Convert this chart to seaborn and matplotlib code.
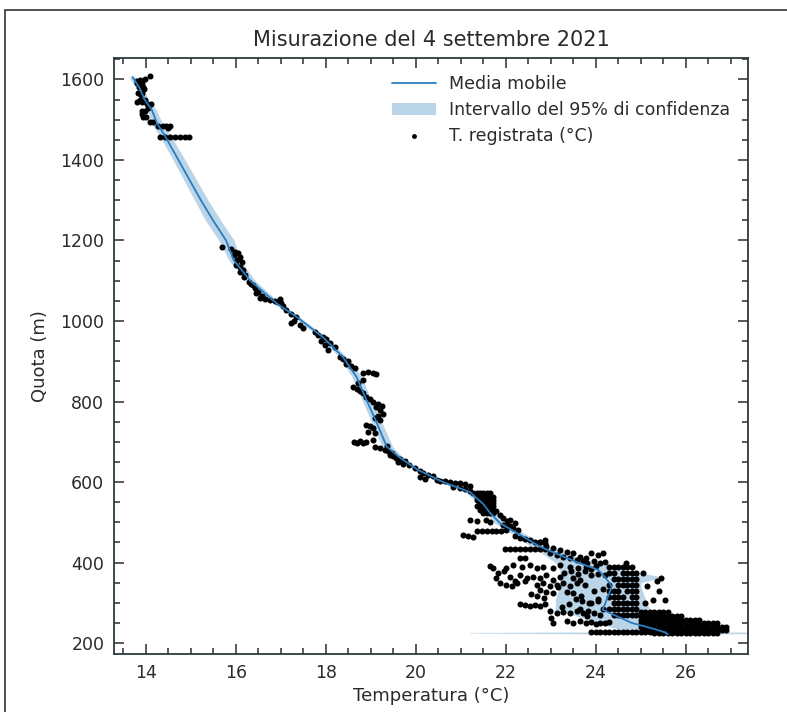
import matplotlib
matplotlib.use("Agg")
import matplotlib.pyplot as plt
import matplotlib.patches as patches
from matplotlib.ticker import MultipleLocator
import seaborn as sns

# --- recorded temperatures (°C) and altitudes (m), read region by region ---
# top of the climb, 1450-1610 m
top_temp = [14.09, 13.98, 13.87, 13.81, 13.91, 13.80, 13.93, 13.84, 13.91, 13.82,
            13.87, 13.98, 13.80, 13.91, 14.02, 14.11, 13.91, 13.98, 13.91, 13.93,
            14.00, 14.09, 14.16, 14.27, 14.38, 14.45, 14.53, 14.49, 14.31, 14.42,
            14.53, 14.64, 14.76, 14.87, 14.95, 13.95, 13.88, 14.05]
top_quota = [1608, 1602, 1598, 1596, 1590, 1590, 1581, 1581, 1567, 1567,
             1550, 1550, 1545, 1545, 1538, 1538, 1521, 1521, 1514, 1506,
             1506, 1494, 1494, 1484, 1484, 1484, 1484, 1478, 1457, 1457,
             1457, 1457, 1457, 1457, 1457, 1575, 1560, 1530]

# 1020-1190 m
upper_temp = [15.68, 15.90, 15.98, 16.05, 16.09, 16.02, 16.13, 16.09, 16.16, 16.09,
              16.20, 16.17, 16.30, 16.38, 16.34, 16.42, 16.49, 16.45, 16.53, 16.64,
              16.75, 16.86, 16.93, 17.00, 16.97, 17.04, 17.11, 15.95, 16.00, 16.58]
upper_quota = [1183, 1178, 1172, 1168, 1159, 1152, 1147, 1134, 1126, 1122,
               1114, 1110, 1097, 1089, 1093, 1081, 1072, 1069, 1057, 1054,
               1052, 1050, 1047, 1044, 1055, 1036, 1027, 1165, 1140, 1062]

# 690-1020 m
mid_temp = [17.22, 17.33, 17.29, 17.22, 17.42, 17.50, 17.76, 17.83, 17.94, 18.01,
            17.90, 17.98, 18.09, 18.20, 18.05, 18.31, 18.38, 18.49, 18.45, 18.56,
            18.64, 18.83, 18.94, 19.05, 19.12, 18.82, 18.71, 18.61, 18.68, 18.75,
            18.83, 18.90, 18.98, 19.05, 19.16, 19.24, 19.12, 19.20, 19.27, 19.16,
            19.09, 19.20, 18.90, 18.98, 19.05, 18.94, 19.09, 18.62, 18.68, 18.75,
            18.83, 18.90, 19.05]
mid_quota = [1018, 1010, 1000, 995, 990, 983, 973, 965, 960, 955,
             950, 940, 945, 935, 928, 911, 905, 900, 893, 888,
             882, 870, 873, 870, 868, 853, 845, 837, 830, 825,
             820, 812, 805, 800, 795, 790, 787, 779, 770, 765,
             758, 754, 742, 738, 733, 725, 722, 700, 698, 703,
             697, 700, 705]

# 570-690 m
chain_temp = [19.09, 19.20, 19.31, 19.38, 19.46, 19.42, 19.55, 19.65, 19.75, 19.60,
              19.72, 19.84, 19.98, 20.09, 20.16, 20.27, 20.38, 20.10, 20.20, 20.46,
              20.53, 20.64, 20.75, 20.86, 20.97, 21.08, 21.20, 20.82, 20.97, 21.08,
              21.20, 21.27, 19.35, 19.50]
chain_quota = [688, 684, 680, 676, 672, 667, 660, 656, 652, 650,
               645, 642, 635, 628, 622, 618, 614, 612, 608, 605,
               603, 602, 600, 598, 597, 595, 590, 588, 585, 582,
               578, 573, 690, 665]

# hovering around 520-575 m: rows of readings
stack_quota = [572, 564, 556, 548, 540, 531, 523]
stack_temp = [[21.35, 21.43, 21.50, 21.57, 21.65],
              [21.35, 21.43, 21.50, 21.57, 21.65, 21.72],
              [21.35, 21.43, 21.50, 21.57, 21.65, 21.72],
              [21.43, 21.50, 21.57, 21.65, 21.72],
              [21.35, 21.43, 21.50, 21.57, 21.65, 21.72],
              [21.43, 21.50, 21.57, 21.65, 21.72],
              [21.50, 21.57, 21.65, 21.72]]

# 430-530 m
low_temp = [21.79, 21.87, 21.94, 22.02, 21.20, 21.35, 21.55, 21.65, 21.05, 21.16,
            21.27, 21.35, 21.46, 21.57, 21.68, 21.79, 21.90, 22.00, 22.09, 21.94,
            22.05, 22.16, 22.27, 22.10, 22.20, 22.20, 22.31, 22.42, 22.53, 22.64,
            22.75, 22.86, 21.98, 22.09, 22.20, 22.31, 22.42, 22.53, 22.64, 22.75,
            22.86]
low_quota = [527, 519, 511, 503, 506, 503, 506, 501, 469, 466,
             464, 479, 479, 478, 478, 478, 479, 480, 490, 494,
             490, 486, 481, 505, 498, 465, 462, 458, 455, 452,
             450, 455, 433, 433, 433, 433, 433, 433, 433, 433,
             433]

# scattered readings near the ground, 240-445 m
scatter_temp = [22.90, 23.05, 23.20, 23.35, 23.50, 23.64, 23.79, 22.98, 23.13, 23.27,
                23.42, 23.57, 23.72, 22.31, 22.42, 21.72, 21.83, 21.79, 21.87, 22.01,
                22.13, 22.20, 22.01, 22.16, 22.35, 22.53, 22.68, 22.83, 23.05, 23.20,
                23.42, 23.61, 23.79, 22.09, 22.31, 22.46, 22.61, 22.76, 22.90, 23.05,
                23.20, 23.50, 23.64, 22.24, 22.42, 22.68, 22.83, 22.98, 23.13, 23.27,
                23.42, 23.57, 23.75, 22.76, 22.90, 23.05, 23.35, 23.50, 23.68, 22.31,
                22.42, 22.53, 22.64, 22.76, 22.87, 22.98, 23.13, 23.27, 23.42, 23.57,
                23.72, 23.83, 23.05, 23.35, 23.50, 23.64, 23.79, 23.90, 24.00, 24.10,
                24.20, 24.30, 21.65, 21.95, 23.30, 23.45, 23.60, 23.75, 23.90, 24.00,
                23.85, 23.70, 23.55, 23.40, 23.25, 23.15, 23.95, 24.05, 23.65, 23.80,
                22.85, 22.70, 22.55, 23.00]
scatter_quota = [440, 436, 432, 427, 423, 415, 411, 423, 419, 415,
                 411, 407, 403, 411, 411, 386, 374, 361, 349, 345,
                 341, 353, 386, 394, 390, 394, 386, 390, 386, 394,
                 390, 386, 390, 365, 370, 361, 365, 361, 370, 357,
                 365, 361, 357, 349, 353, 345, 349, 341, 345, 349,
                 341, 349, 345, 332, 328, 324, 328, 324, 316, 298,
                 295, 293, 295, 293, 298, 279, 274, 276, 274, 279,
                 274, 279, 250, 254, 250, 254, 250, 252, 248, 251,
                 249, 252, 392, 378, 375, 378, 372, 380, 385, 392,
                 300, 305, 310, 296, 290, 340, 330, 310, 285, 268,
                 312, 318, 322, 262]

# 24-25 °C band around 260-460 m
right_temp = [22.76, 22.87, 23.90, 24.05, 24.15, 23.80, 23.95, 24.10, 24.20, 24.68,
              23.90, 24.05, 24.20, 24.15, 23.90, 24.05, 24.10, 23.95, 24.15, 25.27,
              25.53, 25.05, 25.13, 25.09, 25.20, 25.35, 25.45, 25.40]
right_quota = [452, 448, 425, 420, 425, 400, 405, 398, 402, 400,
               370, 372, 368, 335, 300, 305, 270, 275, 285, 307,
               307, 374, 341, 299, 274, 355, 362, 330]

# dense block of hovering readings, 270-390 m
block_quota = [390, 375, 360, 345, 330, 315, 300, 285, 270]
block_temp = [[24.3, 24.4, 24.5, 24.6, 24.7, 24.8],
              [24.3, 24.4, 24.6, 24.7, 24.8, 24.9],
              [24.4, 24.5, 24.6, 24.7, 24.8, 24.9],
              [24.3, 24.5, 24.6, 24.7, 24.8, 24.9],
              [24.3, 24.4, 24.5, 24.7, 24.8, 24.9],
              [24.3, 24.4, 24.5, 24.6, 24.8, 24.9],
              [24.4, 24.5, 24.6, 24.7, 24.8, 24.9],
              [24.3, 24.4, 24.5, 24.6, 24.7, 24.8, 24.9],
              [24.4, 24.5, 24.6, 24.7, 24.8, 24.9]]

# ground level, 220-280 m
ground_quota = [278, 268, 258, 249, 240, 232, 224, 227]
ground_temp = [[25.0, 25.1, 25.2, 25.3, 25.4, 25.5, 25.6],
               [25.0, 25.1, 25.2, 25.3, 25.4, 25.5, 25.6, 25.7, 25.8, 25.9],
               [25.0, 25.1, 25.2, 25.3, 25.4, 25.5, 25.6, 25.7, 25.8, 25.9, 26.0, 26.1, 26.2, 26.3],
               [25.0, 25.1, 25.2, 25.3, 25.4, 25.5, 25.6, 25.7, 25.8, 25.9, 26.0, 26.1, 26.2, 26.3,
                26.4, 26.5, 26.6, 26.7],
               [25.0, 25.1, 25.2, 25.3, 25.4, 25.5, 25.6, 25.7, 25.8, 25.9, 26.0, 26.1, 26.2, 26.3,
                26.4, 26.5, 26.6, 26.7, 26.8, 26.9],
               [25.1, 25.2, 25.3, 25.4, 25.5, 25.6, 25.7, 25.8, 25.9, 26.0, 26.1, 26.2, 26.3, 26.4,
                26.5, 26.6, 26.7, 26.8, 26.9],
               [25.3, 25.4, 25.5, 25.6, 25.7, 25.8, 25.9, 26.0, 26.1, 26.2, 26.3, 26.4, 26.5, 26.6, 26.7],
               [23.9, 24.0, 24.1, 24.2, 24.3, 24.4, 24.5, 24.6, 24.7, 24.8, 24.9, 25.0, 25.1, 25.2]]

# --- moving average and 95% interval ---
ma_quota = [1606, 1580, 1550, 1524, 1490, 1460, 1400, 1300, 1250, 1200,
            1151, 1101, 1044, 1010, 960, 910, 861, 804, 747, 688,
            660, 630, 600, 575, 545, 523, 498, 470, 440, 423,
            400, 382, 364, 350, 340, 310, 283, 270, 250, 235,
            228, 226.5, 225, 222]
ma_temp = [13.70, 13.85, 13.97, 14.13, 14.25, 14.42, 14.72, 15.22, 15.49, 15.78,
           15.95, 16.31, 16.90, 17.35, 17.93, 18.38, 18.68, 18.90, 19.13, 19.35,
           19.65, 20.05, 20.60, 21.20, 21.50, 21.65, 21.87, 22.30, 22.75, 23.10,
           23.60, 24.05, 24.20, 24.30, 24.35, 24.25, 24.15, 24.40, 24.80, 25.30,
           25.50, 25.55, 25.55, 25.60]
ci_low = [13.62, 13.77, 13.89, 14.03, 14.13, 14.30, 14.60, 15.08, 15.32, 15.62,
          15.84, 16.22, 16.83, 17.28, 17.86, 18.30, 18.58, 18.80, 19.02, 19.25,
          19.58, 19.98, 20.52, 21.10, 21.40, 21.55, 21.75, 22.15, 22.55, 22.80,
          23.10, 23.20, 23.20, 23.20, 23.20, 23.10, 23.10, 23.50, 24.00, 24.50,
          24.80, 21.20, 21.20, 25.00]
ci_high = [13.78, 13.93, 14.05, 14.23, 14.37, 14.55, 14.87, 15.38, 15.66, 15.96,
           16.10, 16.42, 16.98, 17.42, 18.00, 18.47, 18.80, 19.00, 19.25, 19.48,
           19.72, 20.12, 20.68, 21.30, 21.60, 21.78, 22.00, 22.45, 22.95, 23.35,
           23.95, 24.60, 25.50, 25.00, 25.00, 25.10, 25.20, 25.30, 25.50, 26.00,
           26.30, 28.50, 28.50, 26.20]


def expand(rows_alt, rows_temp):
    t, q = [], []
    for alt, temps in zip(rows_alt, rows_temp):
        t += temps
        q += [alt] * len(temps)
    return t, q


stack_t, stack_q = expand(stack_quota, stack_temp)
block_t, block_q = expand(block_quota, block_temp)
ground_t, ground_q = expand(ground_quota, ground_temp)

temp_c = (top_temp + upper_temp + mid_temp + chain_temp + stack_t + low_temp
          + scatter_temp + right_temp + block_t + ground_t)
quota_m = (top_quota + upper_quota + mid_quota + chain_quota + stack_q + low_quota
           + scatter_quota + right_quota + block_q + ground_q)

sns.set_theme(style="ticks")
plt.rcParams["font.family"] = ["DejaVu Sans"]
text_col = "#2b2b2b"
plt.rcParams.update({
    "text.color": text_col, "axes.labelcolor": text_col,
    "xtick.color": text_col, "ytick.color": text_col,
    "axes.edgecolor": "#2b3a3d",
})

fig = plt.figure(figsize=(7.87, 7.12), dpi=100)
ax = fig.add_axes([0.1449, 0.0815, 0.8055, 0.837])

ax.fill_betweenx(ma_quota, ci_low, ci_high, color="#1f77b4", alpha=0.3, linewidth=0,
                 label="Intervallo del 95% di confidenza")
sns.lineplot(x=ma_temp, y=ma_quota, sort=False, estimator=None, color="#2a7dc0",
             linewidth=1.3, ax=ax, label="Media mobile")
sns.scatterplot(x=temp_c, y=quota_m, color="black", s=19, linewidth=0, ax=ax,
                label="T. registrata (°C)")

ax.set_xlim(13.29, 27.38)
ax.set_ylim(173, 1653)
ax.xaxis.set_major_locator(MultipleLocator(2))
ax.xaxis.set_minor_locator(MultipleLocator(0.5))
ax.yaxis.set_major_locator(MultipleLocator(200))
ax.yaxis.set_minor_locator(MultipleLocator(50))
ax.tick_params(which="both", direction="in", top=True, right=True, width=1.1)
ax.tick_params(which="major", length=7, labelsize=12.5, pad=7)
ax.tick_params(which="minor", length=4)
for s in ax.spines.values():
    s.set_linewidth(1.3)

ax.set_title("Misurazione del 4 settembre 2021", fontsize=15, pad=9)
ax.set_xlabel("Temperatura (°C)", fontsize=13, labelpad=4)
ax.set_ylabel("Quota (m)", fontsize=13, labelpad=8)

handles, labels = ax.get_legend_handles_labels()
order = [labels.index("Media mobile"), labels.index("Intervallo del 95% di confidenza"),
         labels.index("T. registrata (°C)")]
leg = ax.legend([handles[i] for i in order], [labels[i] for i in order], loc="upper right",
                frameon=False, fontsize=12.5, handlelength=2.5, borderaxespad=0.6,
                labelspacing=0.45, markerscale=0.8)

# frame around the figure (only left and top edges fall inside the image)
fig.patches.append(patches.Rectangle((5 / 787, -0.5), 2, 1.5 - 10 / 712,
                                     transform=fig.transFigure, fill=False,
                                     edgecolor="#333333", linewidth=1.2))

fig.savefig("out.png", dpi=100)
